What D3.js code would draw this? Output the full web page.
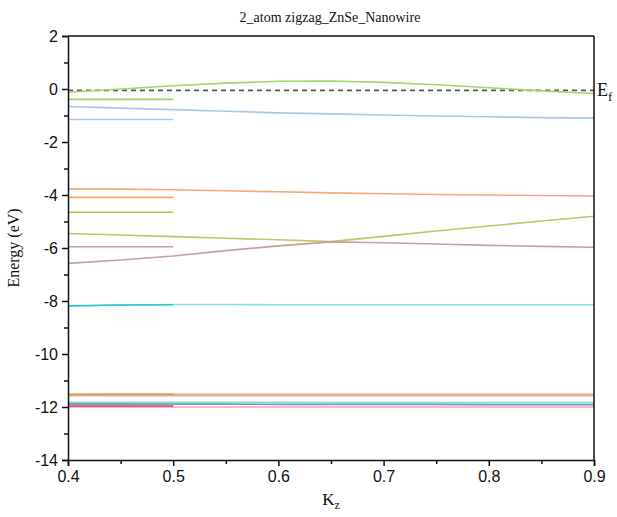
<html>
  <head>
    <meta charset="utf-8">
    <title>2_atom zigzag_ZnSe_Nanowire</title>
    <style type="text/css">
body { margin: 0; background: white; }
.band { fill: none; stroke-width: 1.6; }
.tick text { font-family: "Liberation Sans", Arial, sans-serif; font-size: 16px; fill: #111; }
.tick line, .domain { stroke: #111; stroke-width: 1.5; }
.serif { font-family: "Liberation Serif", "Times New Roman", serif; fill: #111; }
    </style>
    <script type="text/javascript" src="https://cdn.jsdelivr.net/npm/d3@7"></script>
  </head>
  <body>
    <div id="chart"></div>
    <script type="text/javascript">
      // k points
      var kFull = [0.40, 0.45, 0.50, 0.55, 0.60, 0.65, 0.70, 0.75, 0.80, 0.85, 0.90];
      var kShort = [0.40, 0.45, 0.50];

      // bands over the full range
      var greenFull  = [-0.12, 0.00, 0.12, 0.22, 0.29, 0.30, 0.25, 0.16, 0.05, -0.07, -0.17];
      var blueFull   = [-0.66, -0.72, -0.78, -0.84, -0.90, -0.94, -0.98, -1.02, -1.05, -1.08, -1.10];
      var orangeFull = [-3.77, -3.78, -3.80, -3.84, -3.88, -3.92, -3.95, -3.98, -4.00, -4.02, -4.04];
      var oliveFull  = [-5.45, -5.51, -5.57, -5.63, -5.69, -5.76, -5.56, -5.36, -5.17, -4.98, -4.80];
      var brownFull  = [-6.58, -6.45, -6.30, -6.10, -5.92, -5.77, -5.80, -5.85, -5.90, -5.94, -5.97];
      var cyanFull   = [-8.20, -8.15, -8.13, -8.13, -8.14, -8.14, -8.14, -8.14, -8.14, -8.14, -8.14];
      var goldFull   = [-11.52, -11.52, -11.52, -11.52, -11.52, -11.52, -11.52, -11.52, -11.52, -11.52, -11.52];
      var purpleFull = [-11.57, -11.57, -11.57, -11.57, -11.57, -11.57, -11.57, -11.57, -11.57, -11.57, -11.57];
      var tealFull   = [-11.82, -11.82, -11.82, -11.82, -11.82, -11.83, -11.83, -11.83, -11.83, -11.83, -11.83];
      var blue2Full  = [-11.88, -11.88, -11.89, -11.89, -11.90, -11.90, -11.90, -11.90, -11.91, -11.91, -11.91];
      var pinkFull   = [-12.00, -12.00, -12.00, -12.00, -12.00, -12.00, -12.00, -12.00, -12.00, -12.00, -12.00];

      // bands only drawn from 0.4 to 0.5
      var greenShort  = [-0.39, -0.39, -0.39];
      var blueShort   = [-1.15, -1.15, -1.15];
      var orangeShort = [-4.09, -4.09, -4.09];
      var oliveShort  = [-4.65, -4.65, -4.65];
      var brownShort  = [-5.95, -5.95, -5.95];
      var cyanShort   = [-8.18, -8.15, -8.14];
      var goldShort   = [-11.53, -11.52, -11.52];
      var blue2Short  = [-11.90, -11.90, -11.90];
      var redShort    = [-11.96, -11.96, -11.96];

      var fermiLevel = -0.05;

      // tick labels
      var yTicks = [-14, -12, -10, -8, -6, -4, -2, 0, 2];
      var yMinorTicks = [-13, -11, -9, -7, -5, -3, -1, 1];
      var xTicks = [0.4, 0.5, 0.6, 0.7, 0.8, 0.9];
      var xMinorTicks = [0.45, 0.55, 0.65, 0.75, 0.85];

      var bands = [
        {k: kFull, e: greenFull, c: "#a5d46a"},
        {k: kShort, e: greenShort, c: "#a5d46a"},
        {k: kFull, e: blueFull, c: "#a9c8e8"},
        {k: kShort, e: blueShort, c: "#a9c8e8"},
        {k: kFull, e: orangeFull, c: "#f8a875"},
        {k: kShort, e: orangeShort, c: "#f8a875"},
        {k: kShort, e: oliveShort, c: "#bcbd4a"},
        {k: kFull, e: oliveFull, c: "#c2c36a"},
        {k: kFull, e: brownFull, c: "#c4a0a0"},
        {k: kShort, e: brownShort, c: "#c4a0a0"},
        {k: kFull, e: cyanFull, c: "#7fdfe3"},
        {k: kShort, e: cyanShort, c: "#2cc6cf"},
        {k: kFull, e: purpleFull, c: "#d9a6e6"},
        {k: kFull, e: goldFull, c: "#e5b84c"},
        {k: kShort, e: goldShort, c: "#d9a520"},
        {k: kFull, e: pinkFull, c: "#f6a3a3"},
        {k: kFull, e: tealFull, c: "#8fdcb8"},
        {k: kFull, e: blue2Full, c: "#5b9be0"},
        {k: kShort, e: blue2Short, c: "#6aa6ee"},
        {k: kShort, e: redShort, c: "#e8404a"}
      ];

      var w = 617, h = 517;
      var mLeft = 68, mRight = 594, mTop = 36, mBottom = 460;

      var x = d3.scaleLinear().domain([0.4, 0.9]).range([mLeft, mRight]);
      var y = d3.scaleLinear().domain([-14, 2]).range([mBottom, mTop]);

      var svg = d3.select("#chart").append("svg")
           .attr("width", w)
           .attr("height", h);

      // title
      svg.append("text")
           .attr("class", "serif")
           .attr("x", 330)
           .attr("y", 22)
           .attr("text-anchor", "middle")
           .style("font-size", "14px")
           .text("2_atom zigzag_ZnSe_Nanowire");

      var plot = svg.append("g");

      // Fermi level
      plot.append("line")
           .attr("x1", x(0.4)).attr("x2", x(0.9))
           .attr("y1", y(fermiLevel)).attr("y2", y(fermiLevel))
           .attr("stroke", "#555")
           .attr("stroke-width", 1.6)
           .attr("stroke-dasharray", "5,4");

      var line = d3.line()
           .x(function(d) { return x(d[0]); })
           .y(function(d) { return y(d[1]); });

      plot.selectAll(".band")
           .data(bands)
           .enter().append("path")
           .attr("class", "band")
           .attr("stroke", function(d) { return d.c; })
           .attr("d", function(d) { return line(d3.zip(d.k, d.e)); });

      // axes
      svg.append("g")
           .attr("transform", "translate(" + mLeft + ",0)")
           .call(d3.axisLeft(y).tickValues(yTicks).tickSize(6).tickPadding(4)
                 .tickFormat(function(d) { return String(d); }));
      svg.append("g")
           .attr("transform", "translate(" + mLeft + ",0)")
           .call(d3.axisLeft(y).tickValues(yMinorTicks).tickSize(4).tickFormat(""))
           .select(".domain").remove();

      svg.append("g")
           .attr("transform", "translate(0," + mBottom + ")")
           .call(d3.axisBottom(x).tickValues(xTicks).tickSize(6).tickPadding(5)
                 .tickFormat(function(d) { return d.toFixed(1); }));
      svg.append("g")
           .attr("transform", "translate(0," + mBottom + ")")
           .call(d3.axisBottom(x).tickValues(xMinorTicks).tickSize(4).tickFormat(""))
           .select(".domain").remove();

      // frame top and right
      svg.append("line")
           .attr("x1", mLeft).attr("x2", mRight).attr("y1", mTop).attr("y2", mTop)
           .attr("stroke", "#111").attr("stroke-width", 1.5);
      svg.append("line")
           .attr("x1", mRight).attr("x2", mRight).attr("y1", mTop).attr("y2", mBottom)
           .attr("stroke", "#111").attr("stroke-width", 1.5);

      // axis titles
      svg.append("text")
           .attr("class", "serif")
           .attr("transform", "translate(19," + ((mTop + mBottom) / 2) + ") rotate(-90)")
           .attr("text-anchor", "middle")
           .style("font-size", "16px")
           .text("Energy (eV)");

      var kz = svg.append("text")
           .attr("class", "serif")
           .attr("x", (mLeft + mRight) / 2)
           .attr("y", 505)
           .attr("text-anchor", "middle")
           .style("font-size", "17px");
      kz.append("tspan").text("K");
      kz.append("tspan").attr("dy", 4).style("font-size", "12px").text("z");

      var ef = svg.append("text")
           .attr("class", "serif")
           .attr("x", mRight + 3)
           .attr("y", y(fermiLevel) + 6)
           .style("font-size", "18px");
      ef.append("tspan").text("E");
      ef.append("tspan").attr("dy", 5).style("font-size", "13px").text("f");
    </script>
  </body>
</html>
